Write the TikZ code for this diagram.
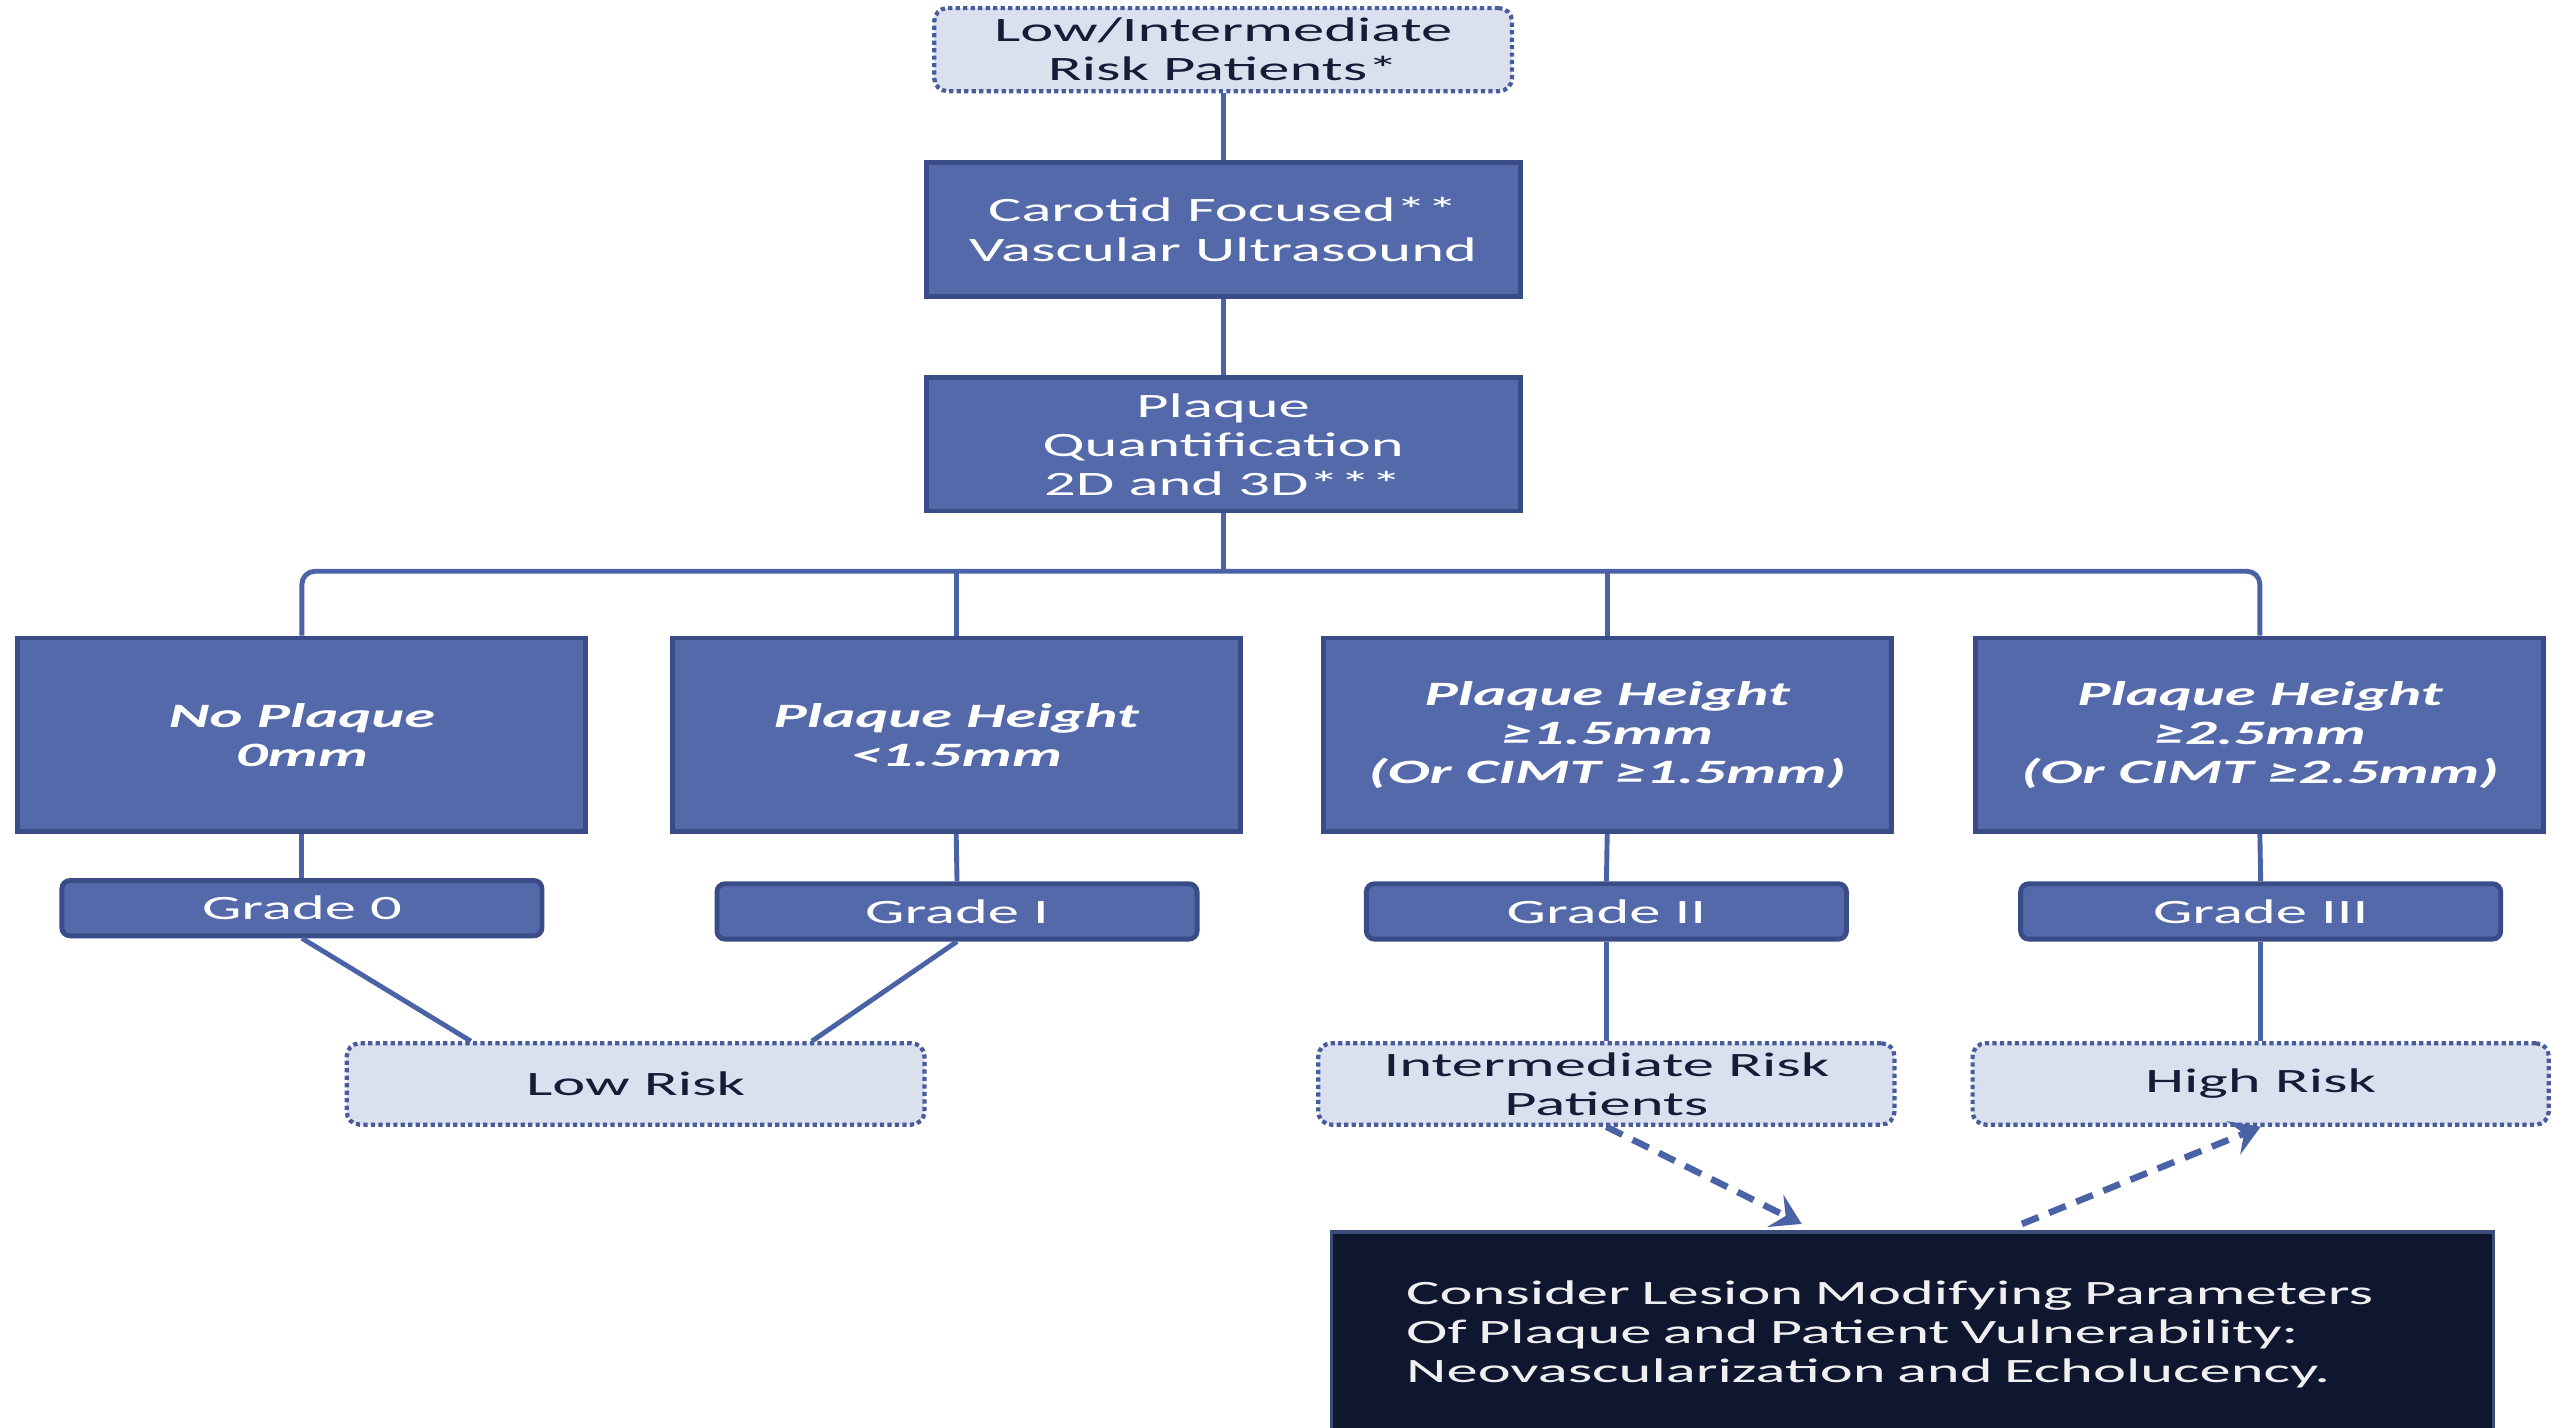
\documentclass[tikz,border=0pt]{standalone}
\usepackage{fontspec}
\setmainfont{Carlito}[FakeStretch=1.83]
\usetikzlibrary{arrows.meta,calc}
\definecolor{boxfill}{RGB}{84,105,170}
\definecolor{boxline}{RGB}{58,76,136}
\definecolor{lightfill}{RGB}{218,224,238}
\definecolor{dotline}{RGB}{72,92,156}
\definecolor{conncol}{RGB}{74,98,166}
\definecolor{darkfill}{RGB}{15,22,48}
\definecolor{darkline}{RGB}{60,76,122}
\definecolor{navytext}{RGB}{22,28,56}
\tikzset{
  txt/.style={font=\fontsize{21}{24}\selectfont, align=center, inner sep=0pt},
  bluebox/.style={txt, draw=boxline, fill=boxfill, line width=3pt, text=white},
  levelbox/.style={bluebox, font=\fontsize{21}{24}\selectfont\bfseries\itshape},
  gradebox/.style={bluebox, rounded corners=5pt},
  riskbox/.style={txt, draw=dotline, fill=lightfill, line width=2.6pt, dash pattern=on 2.6pt off 2pt, rounded corners=8pt, text=navytext},
  darkbox/.style={txt, draw=darkline, fill=darkfill, line width=2pt, text={rgb,255:red,240;green,240;blue,240}, align=left},
  conn/.style={draw=conncol, line width=3pt},
  dasharrow/.style={draw=conncol, line width=4pt, dash pattern=on 11pt off 7pt, -{Stealth[length=18pt,width=22pt,inset=7pt]}}
}
\begin{document}
\begin{tikzpicture}[x=1pt,y=1pt]
\useasboundingbox[fill=white] (0,0) rectangle (1568,-877);
% top
\node[riskbox, minimum width=355pt, minimum height=51pt] (T) at (751.5,-30.5) {Low/Intermediate\\Risk Patients*};
\node[bluebox, minimum width=365pt, minimum height=82pt] (C) at (751.5,-141) {Carotid Focused**\\Vascular Ultrasound};
\node[bluebox, minimum width=365pt, minimum height=82pt] (Q) at (751.5,-273) {Plaque\\Quantification\\2D and 3D***};
% level boxes
\node[levelbox, minimum width=349pt, minimum height=119pt] (L1) at (185.5,-451.5) {No Plaque\\0mm};
\node[levelbox, minimum width=349pt, minimum height=119pt] (L2) at (587.5,-451.5) {Plaque Height\\<1.5mm};
\node[levelbox, minimum width=349pt, minimum height=119pt] (L3) at (987.5,-451.5) {Plaque Height\\≥1.5mm\\(Or CIMT ≥1.5mm)};
\node[levelbox, minimum width=349pt, minimum height=119pt] (L4) at (1388.5,-451.5) {Plaque Height\\≥2.5mm\\(Or CIMT ≥2.5mm)};
% grades
\node[gradebox, minimum width=295pt, minimum height=34pt] (G0) at (185.5,-558) {Grade 0};
\node[gradebox, minimum width=295pt, minimum height=34pt] (G1) at (588,-560) {Grade I};
\node[gradebox, minimum width=295pt, minimum height=34pt] (G2) at (987,-560) {Grade II};
\node[gradebox, minimum width=295pt, minimum height=34pt] (G3) at (1389,-560) {Grade III};
% risk
\node[riskbox, minimum width=355pt, minimum height=50pt] (LR) at (390.5,-666) {\raisebox{-2pt}{Low Risk}};
\node[riskbox, minimum width=354pt, minimum height=50pt] (IR) at (987,-666) {Intermediate Risk\\Patients};
\node[riskbox, minimum width=354pt, minimum height=50pt] (HR) at (1389,-666) {\raisebox{-2pt}{High Risk}};
% dark box
\node[darkbox, text width=622pt, inner xsep=46pt, minimum height=126pt] (D) at (1175,-820) {Consider Lesion Modifying Parameters\\Of Plaque and Patient Vulnerability:\\Neovascularization and Echolucency.};
% connectors
\coordinate (J) at (751.5,-351);
\draw[conn] (T.south) -- (C.north);
\draw[conn] (C.south) -- (Q.north);
\draw[conn] (Q.south) -- (J);
\draw[conn, rounded corners=8pt] (L1.north) |- (J) -| (L4.north);
\draw[conn] (J -| L2.north) -- (L2.north);
\draw[conn] (J -| L3.north) -- (L3.north);
\draw[conn] (L1.south) -- (G0.north);
\draw[conn] (L2.south) -- (G1.north);
\draw[conn] (L3.south) -- (G2.north);
\draw[conn] (L4.south) -- (G3.north);
\draw[conn] (G0.south) -- ($(LR.north west)!0.217!(LR.north east)$);
\draw[conn] (G1.south) -- ($(LR.north west)!0.803!(LR.north east)$);
\draw[conn] (G2.south) -- (IR.north);
\draw[conn] (G3.south) -- (HR.north);
\draw[dasharrow] (IR.south) -- ($(D.north west)!0.405!(D.north east)+(0,4)$);
\draw[dasharrow] ($(D.north west)!0.594!(D.north east)+(0,4)$) -- (HR.south);
\end{tikzpicture}
\end{document}
